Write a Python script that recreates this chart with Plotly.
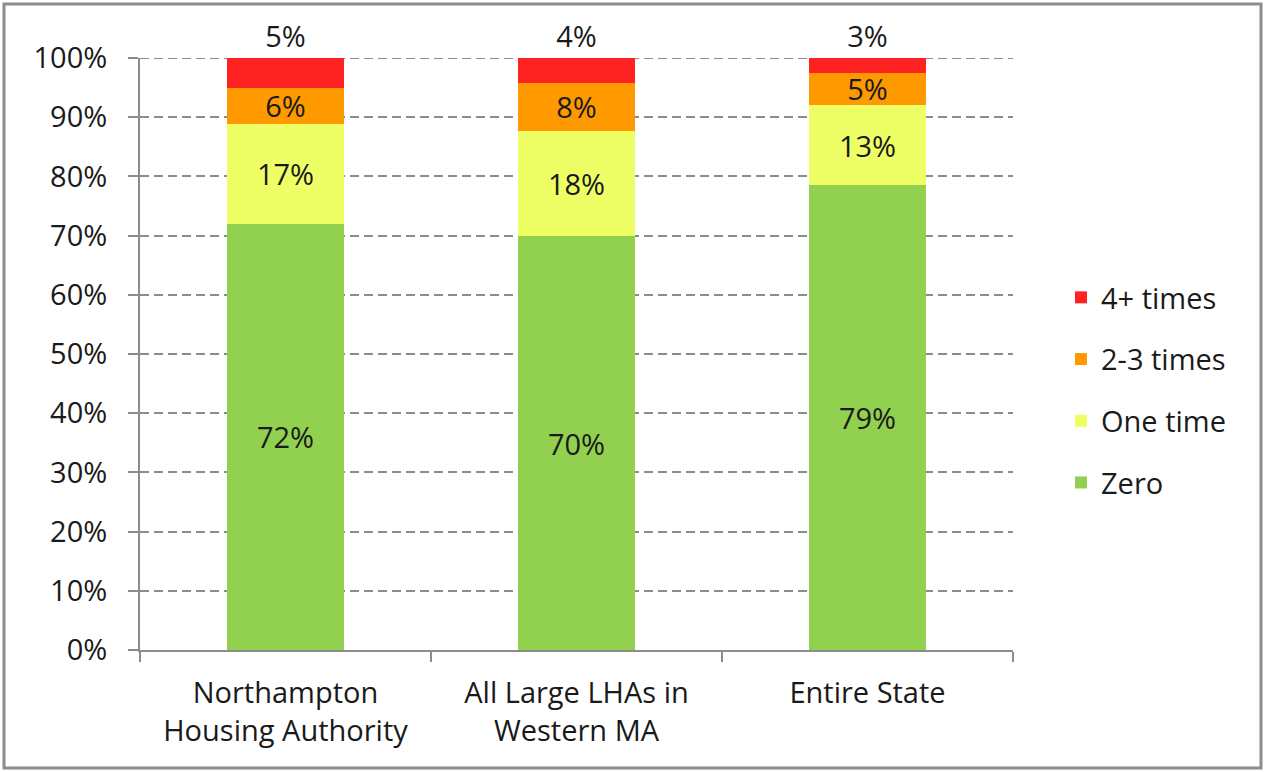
import plotly.graph_objects as go

categories = ["Northampton<br>Housing Authority", "All Large LHAs in<br>Western MA", "Entire State"]
series_names = ["Zero", "One time", "2-3 times", "4+ times"]
zero_vals = [72.0, 69.9, 78.5]
one_vals = [16.9, 17.8, 13.6]
two3_vals = [6.0, 8.1, 5.4]
four_vals = [5.1, 4.2, 2.5]
zero_lbl = ["72%", "70%", "79%"]
one_lbl = ["17%", "18%", "13%"]
two3_lbl = ["6%", "8%", "5%"]
four_lbl = ["5%", "4%", "3%"]
colors = ["#92D050", "#EEFF66", "#FF9900", "#FF2222"]

FONT = "Open Sans"
FS = 29
TXT = "#1a1a1a"
GRAY = "#8c8c8c"
DASH = "9px,5px"

fig = go.Figure()
vals = [zero_vals, one_vals, two3_vals, four_vals]
lbls = [zero_lbl, one_lbl, two3_lbl, four_lbl]
for i, name in enumerate(series_names):
    top = i == 3
    fig.add_trace(go.Bar(
        x=categories, y=vals[i], name=name,
        marker=dict(color=colors[i], line=dict(width=0)),
        text=lbls[i], texttemplate="%{text}",
        textposition="outside" if top else "inside",
        insidetextanchor="middle",
        textfont=dict(family=FONT, size=FS, color=TXT),
        cliponaxis=False,
        legendgroup=name,
        legendrank=10 - i,
        hoverinfo="skip",
    ))

W0, H0 = 1264, 772
L, R, T, B = 140, 251, 58, 122
pw, ph = W0 - L - R, H0 - T - B

def px(x):
    return (x - L) / pw

def py(y):
    return (H0 - B - y) / ph

fig.update_layout(
    width=W0, height=H0,
    margin=dict(l=L, r=R, t=T, b=B, pad=0),
    paper_bgcolor="white", plot_bgcolor="white",
    barmode="stack", bargap=0.6,
    font=dict(family=FONT, size=FS, color=TXT),
    uniformtext=dict(minsize=FS, mode="show"),
    legend=dict(
        traceorder="grouped", tracegroupgap=21,
        x=px(1061), xanchor="left", y=py(390), yanchor="middle",
        font=dict(family=FONT, size=FS, color=TXT),
        bgcolor="rgba(0,0,0,0)", itemwidth=30,
    ),
    xaxis=dict(
        showline=True, linecolor=GRAY, linewidth=2,
        ticks="outside", tickson="boundaries", ticklen=10, tickwidth=2, tickcolor=GRAY,
        showgrid=False, tickfont=dict(family=FONT, size=FS, color=TXT),
        ticklabelstandoff=16,
    ),
    yaxis=dict(
        range=[0, 100], dtick=10, ticksuffix="%",
        showline=True, linecolor=GRAY, linewidth=2,
        ticks="outside", ticklen=10, tickwidth=2, tickcolor=GRAY,
        showgrid=True, gridcolor=GRAY, gridwidth=2, griddash=DASH,
        zeroline=False,
        tickfont=dict(family=FONT, size=FS, color=TXT),
        ticklabelstandoff=15,
    ),
    shapes=[
        dict(
            type="rect", xref="paper", yref="paper",
            x0=px(4), x1=px(1261), y0=py(768), y1=py(4),
            line=dict(color=GRAY, width=3), fillcolor="rgba(0,0,0,0)", layer="below",
        ),
        dict(
            type="line", xref="paper", yref="y",
            x0=0, x1=1, y0=100, y1=100,
            line=dict(color=GRAY, width=2, dash=DASH), layer="below",
        ),
    ],
    showlegend=True,
)

fig.write_html(
    "out.html",
    config={"displayModeBar": False},
    post_script="document.body.style.margin='0';",
)
